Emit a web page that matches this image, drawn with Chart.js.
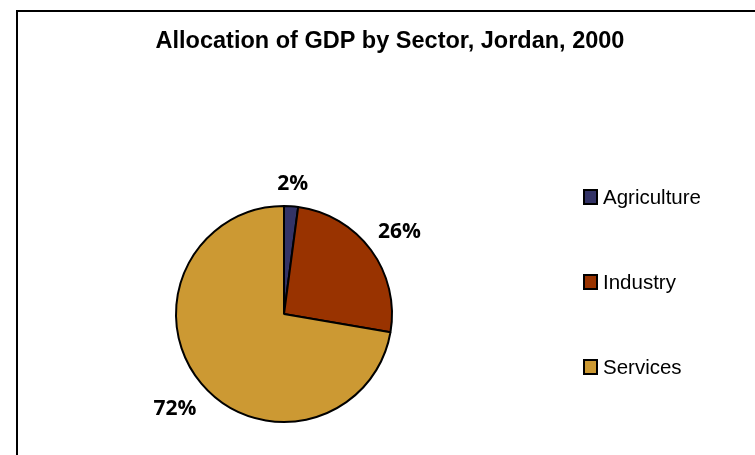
<!DOCTYPE html>
<html>
<head>
<meta charset="utf-8">
<script src="https://cdn.jsdelivr.net/npm/chart.js@4"></script>
<style>
  html, body { margin: 0; padding: 0; background: #fff; }
  #wrap { width: 755px; height: 455px; position: relative; }
</style>
</head>
<body>
<div id="wrap"><canvas id="grafico" width="755" height="455"></canvas></div>
<script>
const sectores = ['Agriculture', 'Industry', 'Services'];
const valores = [2.1, 25.6, 72.3];
const etiquetas = ['2%', '26%', '72%'];
const colores = ['#333366', '#993300', '#CC9933'];
const titulo = 'Allocation of GDP by Sector, Jordan, 2000';

// marco, titulo, etiquetas y leyenda dibujados a mano
const extras = {
    id: 'extras',
    afterDraw(chart) {
        const ctx = chart.ctx;
        ctx.save();

        // marco del grafico
        ctx.strokeStyle = '#000';
        ctx.lineWidth = 2;
        ctx.beginPath();
        ctx.moveTo(17, 460);
        ctx.lineTo(17, 11);
        ctx.lineTo(760, 11);
        ctx.stroke();

        // titulo
        ctx.fillStyle = '#000';
        ctx.font = 'bold 23.5px "Liberation Sans", Arial, sans-serif';
        ctx.textAlign = 'center';
        ctx.textBaseline = 'middle';
        ctx.fillText(titulo, 390, 42);

        // etiquetas de porcentaje
        const meta = chart.getDatasetMeta(0);
        ctx.font = 'bold 21px "Open Sans", "Noto Sans", sans-serif';
        meta.data.forEach((arc, i) => {
            const p = arc.getProps(['x', 'y', 'startAngle', 'endAngle', 'outerRadius'], true);
            const a = (p.startAngle + p.endAngle) / 2;
            const r = p.outerRadius + 24 + 14 * Math.abs(Math.cos(a));
            ctx.fillText(etiquetas[i], p.x + Math.cos(a) * r, p.y + Math.sin(a) * r + 3);
        });

        // leyenda
        ctx.textAlign = 'left';
        ctx.font = '20.5px "Liberation Sans", Arial, sans-serif';
        sectores.forEach((s, i) => {
            const y = 197 + i * 85;
            ctx.fillStyle = colores[i];
            ctx.fillRect(584, y - 7, 13, 14);
            ctx.strokeStyle = '#000';
            ctx.lineWidth = 2;
            ctx.strokeRect(584, y - 7, 13, 14);
            ctx.fillStyle = '#000';
            ctx.fillText(s, 603, y + 1);
        });

        ctx.restore();
    }
};

new Chart(document.getElementById('grafico'), {
    type: 'pie',
    data: {
        labels: sectores,
        datasets: [{
            data: valores,
            backgroundColor: colores,
            borderColor: '#000',
            borderWidth: 2
        }]
    },
    options: {
        responsive: false,
        animation: false,
        layout: {
            padding: { left: 175, right: 362, top: 205, bottom: 32 }
        },
        plugins: {
            legend: { display: false },
            tooltip: { enabled: false }
        }
    },
    plugins: [extras]
});
</script>
</body>
</html>
